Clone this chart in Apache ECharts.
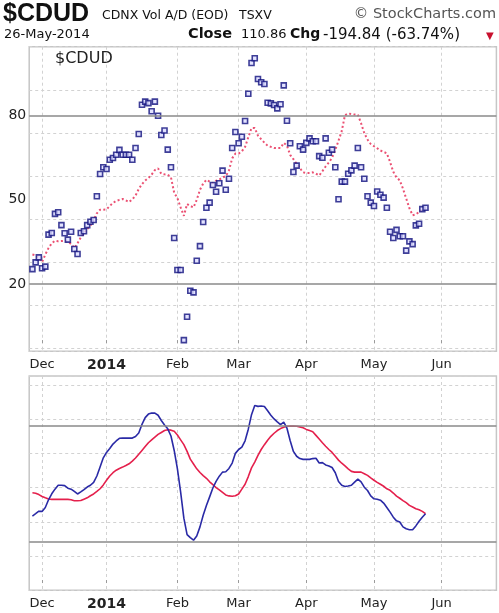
<!DOCTYPE html>
<html lang="en">
<head>
<meta charset="UTF-8">
<title>$CDUD</title>
<script src="https://cdn.jsdelivr.net/npm/echarts@6.0.0/dist/echarts.min.js"></script>
<style>
    html, body { margin: 0; padding: 0; background: #fff; }
    #main { width: 499px; height: 613px; }
</style>
</head>
<body>
<div id="main"></div>
<script>
    // trading calendar (TSXV), weekends and holidays skipped
    var firstDay = '2013-11-26', lastDay = '2014-06-25', dataFirst = '2013-11-27';
    var holidays = ['2013-12-25', '2013-12-26', '2014-01-01', '2014-02-17', '2014-04-18', '2014-05-19'];

    // month ticks on the date axis
    var monthTicks = ['2013-12-02', '2014-01-02', '2014-02-03', '2014-03-03', '2014-04-01', '2014-05-01', '2014-06-02'];
    var monthLabels = ['Dec', '2014', 'Feb', 'Mar', 'Apr', 'May', 'Jun'];

    var yTicks = [20, 50, 80];
    var levels = [20, 80];

    // $CDUD daily values (blue squares), 27-Nov-2013 .. 26-May-2014
    var cdud = [
        25.3, 27.7, 29.5, 25.6, 26.2, 37.6, 38.2, 45.0, 45.6, 41.0,
        38.1, 35.8, 38.6, 32.5, 30.7, 38.2, 38.8, 41.0, 42.2, 42.8,
        51.3, 59.2, 61.6, 61.0, 64.3, 64.9, 66.1, 67.8, 66.1, 66.1,
        66.1, 64.3, 68.5, 73.5, 83.9, 85.0, 84.5, 81.6, 85.0, 80.0,
        73.1, 74.7, 67.9, 61.6, 36.4, 25.0, 25.0, 0.0, 8.3, 17.6,
        17.0, 28.3, 33.5, 42.1, 47.2, 49.0, 55.3, 52.9, 55.9, 60.4,
        53.6, 57.5, 68.5, 74.2, 70.2, 72.5, 78.1, 87.8, 98.8, 100.5,
        93.1, 91.9, 91.3, 84.6, 84.4, 83.8, 82.6, 84.1, 90.8, 78.2,
        70.2, 59.9, 62.2, 69.1, 67.9, 70.3, 71.9, 70.9, 70.9, 65.6,
        65.0, 71.9, 66.8, 67.9, 61.6, 50.2, 56.5, 56.5, 59.3, 60.5,
        62.2, 68.5, 61.6, 57.5, 51.3, 49.0, 47.8, 53.0, 51.8, 50.8,
        47.2, 38.6, 36.4, 39.3, 37.0, 37.0, 31.9, 35.2, 34.2, 40.9,
        41.5, 46.7, 47.2
    ];

    // red dotted average over the squares
    var cdudAvg = [
        30.5, 30.2, 29.3, 27.8, 30.5, 32.8, 34.5, 35.4, 35.2, 35.3,
        35.4, 35.0, 34.3, 32.8, 34.5, 36.6, 38.2, 39.6, 40.8, 42.8,
        45.2, 46.5, 46.5, 46.6, 47.8, 48.9, 49.6, 50.0, 50.3, 49.8,
        49.2, 50.2, 51.5, 53.9, 55.6, 56.9, 57.8, 59.0, 60.6, 61.2,
        59.3, 59.1, 59.0, 58.0, 52.5, 50.6, 47.3, 44.3, 48.5, 47.8,
        47.3, 50.0, 53.6, 55.8, 57.1, 56.5, 55.9, 56.8, 57.2, 58.0,
        58.4, 60.5, 64.8, 66.5, 66.5, 67.3, 68.9, 72.3, 75.6, 75.6,
        72.9, 71.6, 70.4, 69.3, 68.9, 68.5, 68.5, 68.5, 70.3, 69.3,
        66.0, 64.5, 62.8, 61.3, 59.8, 59.6, 59.6, 59.8, 59.3, 58.7,
        60.2, 61.9, 63.3, 65.0, 67.8, 71.1, 74.5, 80.2, 80.8, 80.6,
        80.4, 80.4, 77.3, 73.8, 71.5, 69.9, 69.1, 68.4, 67.6, 67.1,
        66.6, 63.5, 60.0, 57.9, 57.0, 54.0, 50.5, 47.0, 44.5, 44.8,
        45.7, 46.5, 47.3
    ];

    // lower panel: fast (blue) and slow (red) lines
    var lowerFast = [
        33.1, 34.3, 35.6, 35.5, 37.5, 41.5, 44.6, 47.0, 49.0, 49.0,
        48.8, 47.5, 47.0, 45.8, 44.5, 45.6, 46.8, 48.1, 49.0, 50.5,
        53.8, 58.5, 63.2, 66.0, 68.0, 70.3, 71.9, 73.3, 73.4, 73.4,
        73.4, 73.4, 74.2, 76.0, 80.5, 84.0, 85.8, 86.4, 86.3, 85.2,
        82.5, 80.2, 78.2, 74.5, 67.0, 57.5, 45.5, 32.0, 23.5, 21.9,
        20.6, 22.8, 27.5, 33.5, 38.5, 43.0, 47.6, 51.0, 53.7, 55.8,
        56.0, 57.7, 60.5, 65.5, 67.5, 68.7, 72.0, 78.0, 85.5, 90.2,
        89.8, 90.0, 89.7, 87.5, 85.2, 83.3, 81.8, 80.4, 81.6, 78.5,
        72.0, 66.5, 64.0, 62.8, 62.4, 62.4, 62.4, 62.8, 63.0, 60.5,
        60.7, 59.5, 59.0, 58.2, 55.5, 51.0, 49.0, 48.4, 48.6, 49.0,
        50.6, 52.2, 50.8, 48.0, 46.3, 43.5, 42.0, 41.8, 41.3, 39.8,
        37.5, 35.1, 32.5, 30.6, 30.0, 27.5, 26.5, 26.0, 26.0, 28.0,
        30.4, 32.5, 34.3
    ];
    var lowerSlow = [
        45.1, 44.9, 44.2, 43.2, 42.5, 41.9, 41.7, 41.7, 41.7, 41.7,
        41.7, 41.7, 41.5, 41.0, 41.0, 41.1, 41.8, 42.5, 43.6, 44.5,
        45.8, 47.2, 49.2, 51.6, 53.8, 55.5, 56.8, 57.7, 58.4, 59.2,
        60.1, 61.5, 63.1, 65.0, 67.0, 69.0, 71.0, 72.5, 73.9, 75.3,
        76.3, 77.3, 77.7, 77.5, 76.9, 75.0, 72.5, 70.0, 66.5, 62.5,
        60.0, 57.5, 55.6, 54.0, 52.6, 50.8, 49.3, 47.8, 46.6, 45.3,
        44.0, 43.5, 43.3, 43.6, 44.5, 47.0, 49.5, 53.5, 58.0, 61.0,
        64.5, 67.5, 70.0, 72.3, 74.3, 75.9, 77.3, 78.3, 79.0, 79.5,
        79.6, 79.6, 79.5, 79.2, 78.7, 77.9, 77.3, 76.7, 74.8, 72.9,
        71.0, 69.2, 67.5, 66.0, 64.0, 62.0, 60.4, 59.0, 57.5, 56.2,
        55.8, 55.8, 55.8, 55.0, 54.1, 52.8, 51.6, 50.5, 49.5, 48.5,
        47.2, 46.4, 45.0, 43.4, 42.3, 41.1, 40.0, 38.6, 37.8, 36.9,
        36.3, 35.5, 34.3
    ];

    function tradingDays() {
        var out = [];
        var d = new Date(firstDay + 'T00:00:00Z');
        var end = new Date(lastDay + 'T00:00:00Z');
        while (d <= end) {
            var s = d.toISOString().slice(0, 10);
            var wd = d.getUTCDay();
            if (wd !== 0 && wd !== 6 && holidays.indexOf(s) < 0) out.push(s);
            d.setUTCDate(d.getUTCDate() + 1);
        }
        return out;
    }

    var days = tradingDays();
    var start = days.indexOf(dataFirst);

    function onDays(vals) {
        var arr = [];
        for (var i = 0; i < vals.length; i++) arr.push([days[start + i], vals[i]]);
        return arr;
    }

    function isMonthTick(index, value) {
        return monthTicks.indexOf(value) >= 0;
    }

    var font = 'DejaVu Sans';

    function dateAxis(gridIndex) {
        return {
            type: 'category',
            gridIndex: gridIndex,
            data: days,
            boundaryGap: false,
            axisLine: {show: false},
            axisTick: {show: true, interval: isMonthTick, length: 3, lineStyle: {color: '#9a9a9a'}},
            axisLabel: {
                interval: isMonthTick,
                margin: 7,
                color: '#222',
                fontFamily: font,
                fontSize: 13,
                formatter: function (v) {
                    var t = monthLabels[monthTicks.indexOf(v)];
                    return t === '2014' ? '{y|' + t + '}' : t;
                },
                rich: {y: {fontWeight: 'bold', fontSize: 14, fontFamily: font, color: '#222'}}
            },
            splitLine: {show: true, interval: isMonthTick, lineStyle: {color: '#d2d2d2', type: [3, 3]}}
        };
    }

    function levelLines() {
        return {
            silent: true,
            symbol: 'none',
            label: {show: false},
            lineStyle: {color: '#8a8a8a', type: 'solid', width: 1.6},
            data: levels.map(function (v) { return {yAxis: v}; })
        };
    }

    var myChart = echarts.init(document.getElementById('main'));

    var option = {
        animation: false,
        backgroundColor: '#fff',
        graphic: [
            {type: 'text', left: 3, top: 2, style: {text: '$CDUD', font: 'bold 25px "Liberation Sans"', fill: '#111'}},
            {type: 'text', left: 102, top: 9, style: {text: 'CDNX Vol A/D (EOD)', font: '12.5px "DejaVu Sans"', fill: '#111'}},
            {type: 'text', left: 239, top: 9, style: {text: 'TSXV', font: '12.5px "DejaVu Sans"', fill: '#111'}},
            {type: 'text', right: 3, top: 7, style: {text: '\u00a9 StockCharts.com', font: '14.5px "DejaVu Sans"', fill: '#555'}},
            {type: 'text', left: 4, top: 28, style: {text: '26-May-2014', font: '13px "DejaVu Sans"', fill: '#111'}},
            {type: 'text', left: 188, top: 27, style: {text: 'Close', font: 'bold 14.5px "DejaVu Sans"', fill: '#111'}},
            {type: 'text', left: 241, top: 28, style: {text: '110.86', font: '13px "DejaVu Sans"', fill: '#111'}},
            {type: 'text', left: 290, top: 27, style: {text: 'Chg', font: 'bold 14px "DejaVu Sans"', fill: '#111'}},
            {type: 'text', left: 323, top: 28, style: {text: '-194.84 (-63.74%)', font: '15px "DejaVu Sans"', fill: '#111'}},
            {type: 'text', left: 486, top: 31, style: {text: '\u25bc', font: '10px "DejaVu Sans"', fill: '#c8102e'}},
            {type: 'text', left: 55, top: 51, style: {text: '$CDUD', font: '16px "DejaVu Sans"', fill: '#222'}}
        ],
        grid: [
            {left: 29.2, top: 46.7, width: 467.2, height: 304.6, show: true, borderColor: '#c6c6c6', borderWidth: 1.5},
            {left: 29.2, top: 376, width: 467.2, height: 214.3, show: true, borderColor: '#c6c6c6', borderWidth: 1.5}
        ],
        xAxis: [dateAxis(0), dateAxis(1)],
        yAxis: [
            {
                gridIndex: 0, min: -4, max: 104.6,
                axisLine: {show: false}, axisTick: {show: false}, splitLine: {show: false},
                axisLabel: {customValues: yTicks, color: '#222', fontFamily: font, fontSize: 14, margin: 3}
            },
            {
                // helper axis for the dashed horizontal grid
                gridIndex: 0, inverse: true, min: 0, max: 7.067, interval: 1,
                axisLine: {show: false}, axisTick: {show: false}, axisLabel: {show: false},
                splitLine: {show: true, lineStyle: {color: '#d2d2d2', type: [3, 3]}}
            },
            {
                gridIndex: 1, min: -5.3, max: 105.5,
                axisLine: {show: false}, axisTick: {show: false}, splitLine: {show: false},
                axisLabel: {show: false}
            },
            {
                gridIndex: 1, min: 0, max: 6.266, interval: 1,
                axisLine: {show: false}, axisTick: {show: false}, axisLabel: {show: false},
                splitLine: {show: true, lineStyle: {color: '#d2d2d2', type: [3, 3]}}
            }
        ],
        series: [
            {
                name: '$CDUD',
                type: 'scatter',
                xAxisIndex: 0, yAxisIndex: 0,
                symbol: 'rect',
                symbolSize: 5,
                itemStyle: {color: '#dcdcff', borderColor: '#10107e', borderWidth: 1.6},
                markLine: levelLines(),
                data: onDays(cdud),
                z: 4
            },
            {
                name: 'avg',
                type: 'line',
                xAxisIndex: 0, yAxisIndex: 0,
                showSymbol: false,
                lineStyle: {color: '#e8325a', width: 2, type: [2, 2.4], opacity: 0.85},
                data: onDays(cdudAvg),
                z: 3
            },
            {
                name: 'slow',
                type: 'line',
                xAxisIndex: 1, yAxisIndex: 2,
                showSymbol: false,
                lineStyle: {color: '#e4204c', width: 1.6},
                markLine: levelLines(),
                data: onDays(lowerSlow)
            },
            {
                name: 'fast',
                type: 'line',
                xAxisIndex: 1, yAxisIndex: 2,
                showSymbol: false,
                lineStyle: {color: '#2a2aa6', width: 1.6},
                data: onDays(lowerFast)
            }
        ]
    };

    myChart.setOption(option);
</script>
</body>
</html>
